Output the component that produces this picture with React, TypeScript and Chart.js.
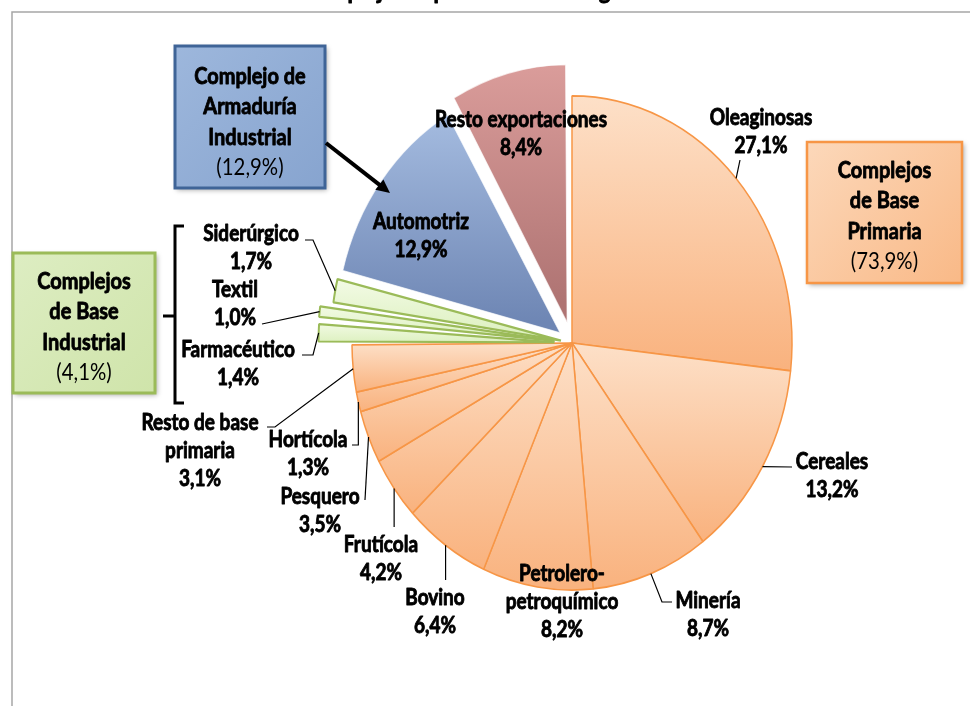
import React, { useEffect, useRef } from "react";
import { Chart, registerables } from "chart.js";

Chart.register(...registerables);

// ---------------- data ----------------
const titleText = "Complejos exportadores de Argentina";
const categories = [
  "Oleaginosas", "Cereales", "Minería", "Petrolero-petroquímico", "Bovino",
  "Frutícola", "Pesquero", "Hortícola", "Resto de base primaria",
  "Farmacéutico", "Textil", "Siderúrgico", "Automotriz", "Resto exportaciones",
];
const categoryLines = [
  ["Oleaginosas"], ["Cereales"], ["Minería"], ["Petrolero-", "petroquímico"], ["Bovino"],
  ["Frutícola"], ["Pesquero"], ["Hortícola"], ["Resto de base", "primaria"],
  ["Farmacéutico"], ["Textil"], ["Siderúrgico"], ["Automotriz"], ["Resto exportaciones"],
];
const shares = [27.1, 13.2, 8.7, 8.2, 6.4, 4.2, 3.5, 1.3, 3.1, 1.4, 1.0, 1.7, 12.9, 8.4];
const groupOf = ["P", "P", "P", "P", "P", "P", "P", "P", "P", "I", "I", "I", "A", "R"];
const groupTitleLines: Record<string, string[]> = {
  P: ["Complejos", "de Base", "Primaria"],
  I: ["Complejos", "de Base", "Industrial"],
  A: ["Complejo de", "Armaduría", "Industrial"],
};
const groupShares: Record<string, number> = { P: 73.9, I: 4.1, A: 12.9 };

// ---------------- layout / style ----------------
const W = 970, H = 706;
const SY = 1.123; // vertical stretch of the pie
const RADIUS = 220;
const explode = [0, 0, 0, 0, 0, 0, 0, 0, 0, 70, 70, 45, 60, 76];
const FONT = "Lato, 'Open Sans', sans-serif";

const groupColors: Record<string, { top: string; bottom: string; border: string; bw: number }> = {
  P: { top: "#FDE0C8", bottom: "#F9B27E", border: "#F79646", bw: 1.5 },
  I: { top: "#F3FBE6", bottom: "#DCF0BE", border: "#9BBB59", bw: 2 },
  A: { top: "#A6BDE1", bottom: "#6E86B4", border: "rgba(255,255,255,0.7)", bw: 1 },
  R: { top: "#DC9E9C", bottom: "#AF7473", border: "rgba(255,255,255,0.7)", bw: 1 },
};

// label anchor: x center, y of first line
const labelPos: [number, number][] = [
  [761, 118], [832, 462], [708, 601], [562, 574], [435, 598],
  [381, 545], [320, 497], [308, 440], [200, 423],
  [238, 350], [235, 290], [251, 234], [421, 222], [521, 120],
];
// leader lines: first point is taken from the slice, then these points
type Leader = { pts: [number, number][]; vertical?: boolean } | null;
const leaders: Leader[] = [
  { pts: [[740, 160]] },
  { pts: [[792, 467]] },
  { pts: [[662, 602], [672, 602]] },
  null,
  { pts: [[0, 580]], vertical: true },
  { pts: [[0, 527]], vertical: true },
  { pts: [[365, 500]] },
  { pts: [[0, 445], [352, 445]], vertical: true },
  { pts: [[275, 427], [267, 427]] },
  { pts: [[313, 355], [302, 355]] },
  { pts: [[262, 324]] },
  { pts: [[313, 240], [305, 240]] },
  null,
  null,
];

const boxes = [
  { g: "A", x: 175, y: 46, w: 150, h: 142, fill: ["#9DB7DC", "#87A4CF"], border: "#3F6497", bw: 3, y0: 76 },
  { g: "I", x: 13, y: 253, w: 142, h: 140, fill: ["#DDEDC2", "#CFE4AA"], border: "#9BBB59", bw: 3, y0: 281 },
  { g: "P", x: 807, y: 142, w: 155, h: 141, fill: ["#FCD8BA", "#F9B987"], border: "#F79646", bw: 2.5, y0: 170 },
];

const fmt = (v: number) => v.toFixed(1).replace(".", ",") + "%";

function text(ctx: CanvasRenderingContext2D, s: string, x: number, y: number, size: number, bold: boolean, sx = 1, sy = 1, baseline: CanvasTextBaseline = "middle") {
  ctx.save();
  ctx.font = `${bold ? "bold" : "normal"} ${size}px ${FONT}`;
  ctx.textAlign = "center";
  ctx.textBaseline = baseline;
  ctx.fillStyle = "#000";
  ctx.strokeStyle = "#000";
  ctx.translate(x, y);
  ctx.scale(sx, sy);
  ctx.fillText(s, 0, 0);
  if (bold) {
    ctx.lineWidth = 0.8;
    ctx.lineJoin = "round";
    ctx.strokeText(s, 0, 0);
  }
  ctx.restore();
}

function sliceGradient(chart: any, i: number) {
  const ctx: CanvasRenderingContext2D = chart.ctx;
  const area = chart.chartArea;
  const c = groupColors[groupOf[i]];
  if (!area) return c.bottom;
  const cy = (area.top + area.bottom) / 2;
  const total = shares.reduce((a, b) => a + b, 0);
  let cum = 0;
  for (let k = 0; k < i; k++) cum += shares[k];
  const a0 = (cum / total) * Math.PI * 2 - Math.PI / 2;
  const a1 = ((cum + shares[i]) / total) * Math.PI * 2 - Math.PI / 2;
  const mid = (a0 + a1) / 2;
  const d = explode[i] / 4;
  const ty = cy + Math.sin(mid) * d;
  let ymin = ty, ymax = ty;
  for (let s = 0; s <= 24; s++) {
    const a = a0 + ((a1 - a0) * s) / 24;
    const y = ty + Math.sin(a) * RADIUS;
    ymin = Math.min(ymin, y);
    ymax = Math.max(ymax, y);
  }
  if (ymax - ymin < 2) ymax = ymin + 2;
  const g = ctx.createLinearGradient(0, ymin, 0, ymax);
  g.addColorStop(0, c.top);
  g.addColorStop(1, c.bottom);
  return g;
}

function arcPoint(el: any, cy: number, frac = 1.0): [number, number] {
  const mid = (el.startAngle + el.endAngle) / 2;
  const off = (el.options.offset || 0) / 4;
  const fix = 1 - Math.sin(Math.min(Math.PI, el.circumference || 0));
  const R = el.outerRadius + off * fix;
  const x = el.x + Math.cos(mid) * (off + R * frac);
  const y = el.y + Math.sin(mid) * (off + R * frac);
  return [x, cy + (y - cy) * SY];
}

const ellipsePlugin = {
  id: "ellipse",
  beforeDatasetsDraw(chart: any) {
    const el = chart.getDatasetMeta(0).data[0];
    const ctx = chart.ctx;
    ctx.save();
    ctx.translate(el.x, el.y);
    ctx.scale(1, SY);
    ctx.translate(-el.x, -el.y);
  },
  afterDatasetsDraw(chart: any) {
    chart.ctx.restore();
  },
};

const framePlugin = {
  id: "frame",
  beforeDraw(chart: any) {
    const ctx: CanvasRenderingContext2D = chart.ctx;
    ctx.save();
    ctx.fillStyle = "#fff";
    ctx.fillRect(0, 0, W, H);
    ctx.strokeStyle = "#A6A6A6";
    ctx.lineWidth = 1.5;
    ctx.beginPath();
    ctx.moveTo(12, H + 2);
    ctx.lineTo(12, 12);
    ctx.lineTo(W + 2, 12);
    ctx.stroke();
    ctx.restore();
    // title: lies mostly above the visible area, only descenders show
    text(ctx, titleText, 487, -1.5, 22, true, 1, 1.12, "alphabetic");
  },
};

const annotPlugin = {
  id: "annot",
  afterDraw(chart: any) {
    const ctx: CanvasRenderingContext2D = chart.ctx;
    const meta = chart.getDatasetMeta(0);
    const cy = meta.data[0].y;

    // group boxes
    boxes.forEach((b) => {
      ctx.save();
      ctx.shadowColor = "rgba(0,0,0,0.35)";
      ctx.shadowBlur = 5;
      ctx.shadowOffsetX = 2;
      ctx.shadowOffsetY = 2;
      const g = ctx.createLinearGradient(b.x, b.y, b.x + b.w, b.y + b.h);
      g.addColorStop(0, b.fill[0]);
      g.addColorStop(1, b.fill[1]);
      ctx.fillStyle = g;
      ctx.fillRect(b.x, b.y, b.w, b.h);
      ctx.shadowColor = "transparent";
      ctx.strokeStyle = b.border;
      ctx.lineWidth = b.bw;
      ctx.strokeRect(b.x, b.y, b.w, b.h);
      ctx.restore();
      const lines = groupTitleLines[b.g];
      lines.forEach((s, k) => text(ctx, s, b.x + b.w / 2, b.y0 + k * 30.5, 21, true, 0.95, 1.12));
      text(ctx, "(" + fmt(groupShares[b.g]) + ")", b.x + b.w / 2, b.y0 + 3 * 30.5, 21, false, 0.97, 1.12);
    });

    // arrow from Armaduría box to Automotriz slice
    ctx.save();
    ctx.strokeStyle = "#000";
    ctx.fillStyle = "#000";
    ctx.lineWidth = 4;
    const ax0 = 326, ay0 = 143, ax1 = 390, ay1 = 193;
    const ang = Math.atan2(ay1 - ay0, ax1 - ax0);
    ctx.beginPath();
    ctx.moveTo(ax0, ay0);
    ctx.lineTo(ax1 - Math.cos(ang) * 10, ay1 - Math.sin(ang) * 10);
    ctx.stroke();
    ctx.beginPath();
    ctx.moveTo(ax1, ay1);
    ctx.lineTo(ax1 - Math.cos(ang - 0.45) * 15, ay1 - Math.sin(ang - 0.45) * 15);
    ctx.lineTo(ax1 - Math.cos(ang + 0.45) * 15, ay1 - Math.sin(ang + 0.45) * 15);
    ctx.closePath();
    ctx.fill();
    ctx.restore();

    // bracket for industrial group
    ctx.save();
    ctx.strokeStyle = "#000";
    ctx.lineWidth = 3;
    ctx.lineJoin = "miter";
    ctx.beginPath();
    ctx.moveTo(184, 226);
    ctx.lineTo(175, 226);
    ctx.lineTo(175, 403);
    ctx.lineTo(184, 403);
    ctx.moveTo(175, 316);
    ctx.lineTo(163, 316);
    ctx.stroke();
    ctx.restore();

    // leader lines
    ctx.save();
    ctx.strokeStyle = "#000";
    ctx.lineWidth = 1.2;
    meta.data.forEach((el: any, i: number) => {
      const L = leaders[i];
      if (!L) return;
      const p0 = arcPoint(el, cy, 1.0);
      ctx.beginPath();
      ctx.moveTo(p0[0], p0[1]);
      L.pts.forEach((p, k) => {
        let x = p[0];
        if (L.vertical && k === 0) x = p0[0];
        ctx.lineTo(x, p[1]);
      });
      ctx.stroke();
    });
    ctx.restore();

    // slice labels
    categoryLines.forEach((lines, i) => {
      const [x, y] = labelPos[i];
      const all = [...lines, fmt(shares[i])];
      all.forEach((s, k) => text(ctx, s, x, y + k * 28, 20, true, 0.95, 1.12));
    });
  },
};

export default function App() {
  const ref = useRef<HTMLCanvasElement | null>(null);
  useEffect(() => {
    if (!ref.current) return;
    const chart = new Chart(ref.current, {
      type: "pie",
      data: {
        labels: categories,
        datasets: [
          {
            data: shares,
            radius: RADIUS,
            offset: explode,
            backgroundColor: (c: any) => sliceGradient(c.chart, c.dataIndex),
            borderColor: groupOf.map((g) => groupColors[g].border),
            borderWidth: groupOf.map((g) => groupColors[g].bw),
          } as any,
        ],
      },
      options: {
        responsive: false,
        maintainAspectRatio: false,
        devicePixelRatio: 1,
        animation: false,
        events: [],
        layout: { padding: { left: 174, right: 0, top: 0, bottom: 20 } },
        plugins: {
          legend: { display: false },
          tooltip: { enabled: false },
          title: { display: false },
        },
      },
      plugins: [framePlugin, ellipsePlugin, annotPlugin],
    });
    return () => chart.destroy();
  }, []);
  return (
    <div style={{ position: "fixed", left: 0, top: 0, width: W, height: H, background: "#fff" }}>
      <canvas ref={ref} width={W} height={H} style={{ width: W + "px", height: H + "px", display: "block" }} />
    </div>
  );
}
